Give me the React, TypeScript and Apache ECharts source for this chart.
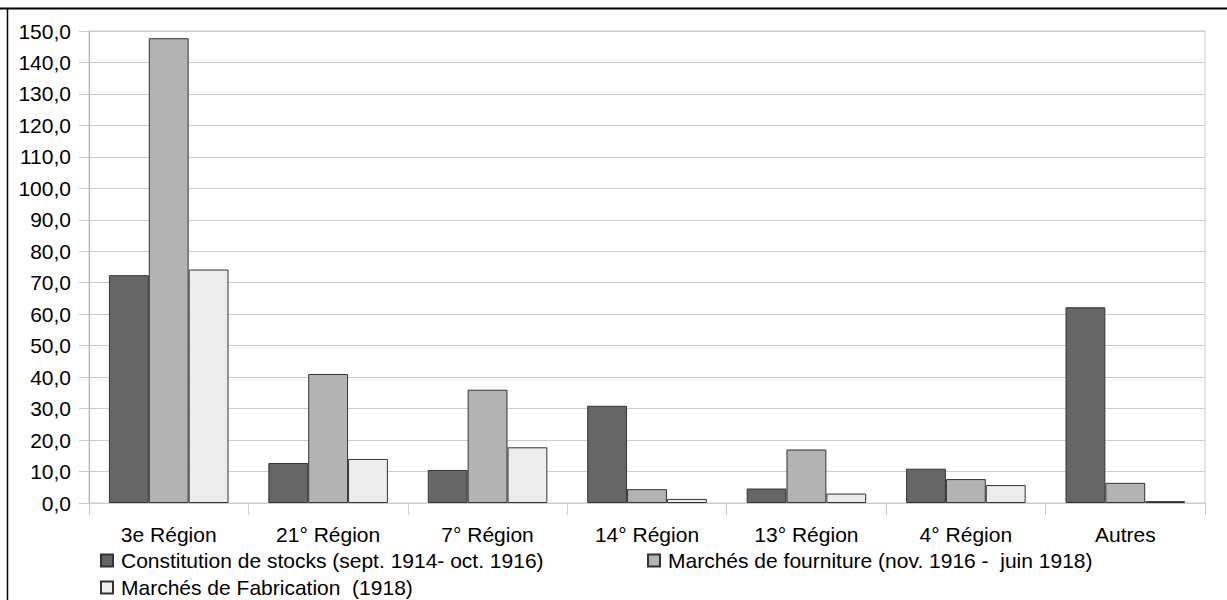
import React, { useEffect, useRef } from "react";
import * as echarts from "echarts";

const categories = ["3e Région", "21° Région", "7° Région", "14° Région", "13° Région", "4° Région", "Autres"];
const seriesNames = [
  "Constitution de stocks (sept. 1914- oct. 1916)",
  "Marchés de fourniture (nov. 1916 -  juin 1918)",
  "Marchés de Fabrication  (1918)",
];
const stocks = [72.4, 12.7, 10.5, 30.9, 4.6, 10.9, 62.2];
const fourniture = [147.7, 41.0, 36.0, 4.4, 17.0, 7.6, 6.4];
const fabrication = [74.2, 14.0, 17.7, 1.3, 3.0, 5.7, 0.6];
const colors = ["#666666", "#b3b3b3", "#ececec"];

const FONT = "'Liberation Sans', Arial, sans-serif";

export default function App() {
  const ref = useRef<HTMLDivElement>(null);
  useEffect(() => {
    if (!ref.current) return;
    const chart = echarts.init(ref.current, null, { renderer: "svg" });
    const values = [stocks, fourniture, fabrication];
    const legendPos = [
      { left: 100, top: 550 },
      { left: 647, top: 550 },
      { left: 100, top: 577 },
    ];
    chart.setOption({
      animation: false,
      backgroundColor: "#ffffff",
      textStyle: { fontFamily: FONT },
      grid: {
        left: 89,
        right: 22,
        top: 31,
        bottom: 97,
        show: true,
        borderColor: "#cccccc",
        borderWidth: 1,
      },
      legend: seriesNames.map((n, i) => ({
        data: [n],
        left: legendPos[i].left,
        top: legendPos[i].top,
        padding: 0,
        icon: "rect",
        itemWidth: 12,
        itemHeight: 12,
        selectedMode: false,
        textStyle: { fontSize: 21, color: "#000", fontFamily: FONT, padding: [0, 0, 0, 3] },
      })),
      xAxis: {
        type: "category",
        data: categories,
        axisLine: { show: true, lineStyle: { color: "#cccccc" } },
        axisTick: { show: true, length: 12, lineStyle: { color: "#cccccc" } },
        axisLabel: { fontSize: 21, color: "#000", fontFamily: FONT, margin: 21 },
      },
      yAxis: {
        type: "value",
        min: 0,
        max: 150,
        interval: 10,
        axisLine: { show: true, lineStyle: { color: "#b3b3b3" } },
        axisTick: { show: true, length: 10, lineStyle: { color: "#cccccc" } },
        splitLine: { lineStyle: { color: "#cccccc" } },
        axisLabel: {
          fontSize: 21,
          color: "#000",
          fontFamily: FONT,
          margin: 18,
          formatter: (v: number) => v.toFixed(1).replace(".", ","),
        },
      },
      series: seriesNames.map((n, i) => ({
        name: n,
        type: "bar",
        data: values[i],
        barGap: "0%",
        barCategoryGap: "25%",
        itemStyle: { color: colors[i], borderColor: "#333333", borderWidth: 1 },
      })),
      graphic: [
        { type: "line", shape: { x1: 0, y1: 8.5, x2: 1227, y2: 8.5 }, style: { stroke: "#000", lineWidth: 2 } },
        { type: "line", shape: { x1: 7.5, y1: 8, x2: 7.5, y2: 600 }, style: { stroke: "#000", lineWidth: 1.5 } },
      ],
    });
    return () => chart.dispose();
  }, []);
  return (
    <div style={{ position: "absolute", left: 0, top: 0, width: 1227, height: 600, background: "#fff" }}>
      <div ref={ref} style={{ width: 1227, height: 600 }} />
    </div>
  );
}
